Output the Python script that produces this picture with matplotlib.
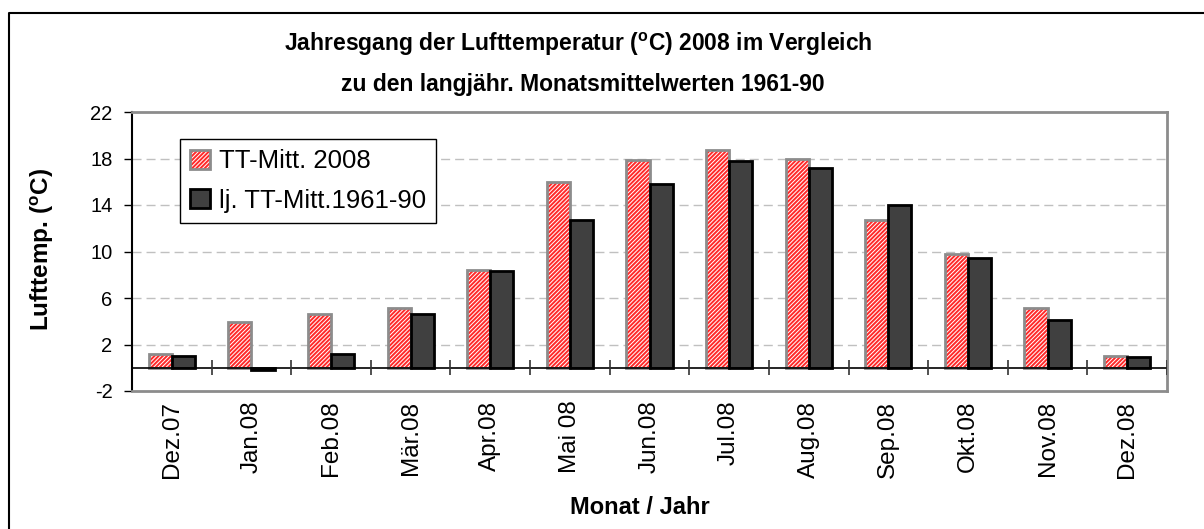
"""
Jahresgang der Lufttemperatur 2008 vs. langjaehrige Monatsmittel 1961-90.
Grouped bar chart, saved to out.png.
"""
import matplotlib
matplotlib.use("Agg")
import matplotlib.pyplot as plt
from matplotlib.patches import Patch
from matplotlib.lines import Line2D
from matplotlib.legend_handler import HandlerTuple
import numpy as np

plt.rcParams.update({
    "font.family": ["Liberation Sans", "DejaVu Sans"],
    "mathtext.fontset": "custom",
    "mathtext.rm": "Liberation Sans",
    "mathtext.bf": "Liberation Sans:bold",
    "hatch.linewidth": 0.7,
    "axes.unicode_minus": False,
})

months = ["Dez.07", "Jan.08", "Feb.08", "Mär.08", "Apr.08", "Mai 08", "Jun.08",
          "Jul.08", "Aug.08", "Sep.08", "Okt.08", "Nov.08", "Dez.08"]
tt_2008 = [1.2, 3.9, 4.6, 5.1, 8.4, 16.0, 17.9, 18.7, 18.0, 12.7, 9.8, 5.1, 1.0]
tt_6190 = [1.0, -0.2, 1.2, 4.6, 8.3, 12.7, 15.8, 17.8, 17.2, 14.0, 9.4, 4.1, 0.9]
yticks = [-2, 2, 6, 10, 14, 18, 22]

RED = "#ff2a2a"
DARK = "#404040"
EDGE_RED = "#8c8c8c"
HATCH = "////////"

W, H = 1204, 529
fig = plt.figure(figsize=(W / 100, H / 100), dpi=100)
ax = fig.add_axes([132 / W, 1 - 391 / H, (1167 - 132) / W, (391 - 112) / H])

x = np.arange(len(months))
bw = 0.29

# 2008 bars: red with white diagonal hatch, grey outline
ax.bar(x - bw / 2, tt_2008, bw, color=RED, edgecolor="white", hatch=HATCH,
       lw=0, zorder=3)
ax.bar(x - bw / 2, tt_2008, bw, fill=False, edgecolor=EDGE_RED, lw=2, zorder=4)
# long-term mean bars
ax.bar(x + bw / 2, tt_6190, bw, color=DARK, edgecolor="black", lw=2, zorder=4)

ax.set_xlim(-0.5, len(months) - 0.5)
ax.set_ylim(-2, 22)
ax.set_yticks(yticks)
for t in yticks[1:-1]:
    ax.axhline(t, color="#c0c0c0", lw=1, dashes=(6.5, 3.6), zorder=1)

# zero line with category separators crossing it
ax.axhline(0, color="black", lw=1.2, zorder=5)
ax.vlines(np.arange(len(months)) + 0.5, -0.65, 0.65, color="#333333", lw=1.2,
          zorder=5)

ax.set_xticks(x)
ax.set_xticklabels(months, rotation=90, fontsize=17.5)
ax.tick_params(axis="x", length=0, pad=7)
ax.tick_params(axis="y", length=6, width=1, pad=8, labelsize=14.5, direction="out")

for s in ("top", "right", "bottom"):
    ax.spines[s].set_color("#8c8c8c")
    ax.spines[s].set_linewidth(2)
ax.spines["left"].set_color("black")
ax.spines["left"].set_linewidth(1.5)

# legend
h1 = (Patch(facecolor=RED, edgecolor="white", hatch=HATCH, lw=0),
      Patch(fill=False, edgecolor=EDGE_RED, lw=2))
h2 = Patch(facecolor=DARK, edgecolor="black", lw=2)
leg = ax.legend([h1, h2], ["TT-Mitt. 2008", "lj. TT-Mitt.1961-90"],
                handler_map={tuple: HandlerTuple(ndivide=1, pad=0)},
                loc="upper left", bbox_to_anchor=(0.0464, 0.903),
                borderaxespad=0, fontsize=18.5, fancybox=False, framealpha=1,
                handlelength=0.75, handleheight=0.75, handletextpad=0.35,
                labelspacing=0.6, borderpad=0.4)
leg.get_frame().set_edgecolor("black")
leg.get_frame().set_linewidth(1)

# titles and axis labels
fig.text(578 / W, 1 - 51 / H,
         r"Jahresgang der Lufttemperatur ($^\mathbf{o}$C) 2008 im Vergleich",
         ha="center", va="baseline", fontsize=16.5, fontweight="bold")
fig.text(583 / W, 1 - 91 / H, "zu den langjähr. Monatsmittelwerten 1961-90",
         ha="center", va="baseline", fontsize=16.5, fontweight="bold")
fig.text(42 / W, 1 - 250 / H, r"Lufttemp. ($^\mathbf{o}$C)", rotation=90,
         ha="center", va="center", fontsize=17.5, fontweight="bold")
fig.text(640 / W, 1 - 508 / H, "Monat / Jahr", ha="center", va="center",
         fontsize=17, fontweight="bold")

# outer chart border (left and top edges visible)
fig.add_artist(Line2D([8.5 / W, 8.5 / W, 1.0], [0.0, 1 - 12.5 / H, 1 - 12.5 / H],
                      transform=fig.transFigure, color="black", lw=1.5))

fig.savefig("out.png", dpi=100)
